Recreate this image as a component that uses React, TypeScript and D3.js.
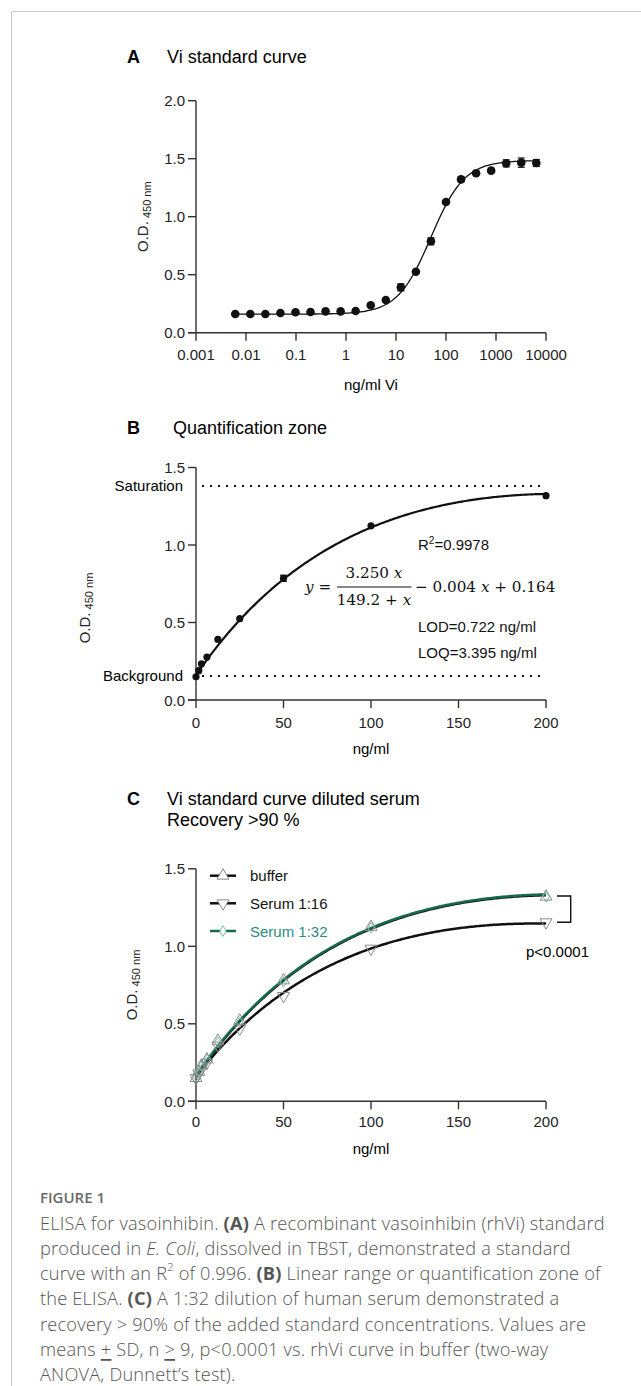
import React from "react";
import * as d3 from "d3";

// ---------- Panel A data ----------
const A_conc = [0.0061, 0.0122, 0.0244, 0.0488, 0.0977, 0.195, 0.39, 0.78, 1.56, 3.125, 6.25, 12.5, 25, 50, 100, 200, 400, 800, 1600, 3200, 6400];
const A_od = [0.161, 0.161, 0.161, 0.170, 0.176, 0.178, 0.184, 0.184, 0.187, 0.236, 0.282, 0.391, 0.526, 0.788, 1.127, 1.322, 1.374, 1.397, 1.460, 1.466, 1.463];
const A_sd = [0, 0, 0, 0, 0, 0, 0, 0, 0, 0.01, 0.01, 0.03, 0.01, 0.03, 0.01, 0.02, 0.01, 0.01, 0.03, 0.04, 0.03];
const A_fit = { bottom: 0.16, top: 1.485, ec50: 50, hill: 1.3 };
const A_xTicks = [0.001, 0.01, 0.1, 1, 10, 100, 1000, 10000];
const A_xLabels = ["0.001", "0.01", "0.1", "1", "10", "100", "1000", "10000"];
const A_yTicks = [0, 0.5, 1, 1.5, 2];
const A_yLabels = ["0.0", "0.5", "1.0", "1.5", "2.0"];

// ---------- Panel B data ----------
const B_conc = [0, 1.56, 3.125, 6.25, 12.5, 25, 50, 100, 200];
const B_od = [0.150, 0.189, 0.234, 0.277, 0.391, 0.525, 0.785, 1.124, 1.318];
const B_sd = [0, 0, 0, 0, 0, 0, 0.02, 0, 0];
const B_fit = { a: 5.0, b: 222, d: 0.006, c: 0.16 };
const B_saturation = 1.381;
const B_background = 0.155;
const BC_xTicks = [0, 50, 100, 150, 200];
const BC_xLabels = ["0", "50", "100", "150", "200"];
const BC_yTicks = [0, 0.5, 1, 1.5];
const BC_yLabels = ["0.0", "0.5", "1.0", "1.5"];

// ---------- Panel C data ----------
const C_conc = [0, 1.56, 3.125, 6.25, 12.5, 25, 50, 100, 200];
const C_buffer = [0.15, 0.19, 0.23, 0.27, 0.39, 0.52, 0.78, 1.125, 1.32];
const C_serum16 = [0.15, 0.18, 0.21, 0.25, 0.36, 0.47, 0.68, 0.985, 1.155];
const C_serum32 = [0.16, 0.19, 0.23, 0.27, 0.38, 0.51, 0.77, 1.12, 1.32];
const C_fitBuffer = { a: 5.0, b: 222, d: 0.006, c: 0.16 };
const C_fitSerum16 = { a: 4.69, b: 229, d: 0.006, c: 0.16 };
const C_fitSerum32 = { a: 5.0, b: 222, d: 0.006, c: 0.165 };
const C_series = ["buffer", "Serum 1:16", "Serum 1:32"];

const SANS = "'Liberation Sans', Arial, sans-serif";
const SERIF = "'DejaVu Serif', 'Liberation Serif', serif";
const GREEN = "#16694a";
const TEAL = "#2b8c80";

const fourPL = (x: number) =>
  A_fit.bottom + (A_fit.top - A_fit.bottom) / (1 + Math.pow(A_fit.ec50 / x, A_fit.hill));
const hyper = (p: { a: number; b: number; d: number; c: number }) => (x: number) =>
  (p.a * x) / (p.b + x) - p.d * x + p.c;

function sampleLog(lo: number, hi: number, n: number) {
  const out: number[] = [];
  for (let i = 0; i <= n; i++) out.push(Math.pow(10, Math.log10(lo) + ((Math.log10(hi) - Math.log10(lo)) * i) / n));
  return out;
}
function sampleLin(lo: number, hi: number, n: number) {
  const out: number[] = [];
  for (let i = 0; i <= n; i++) out.push(lo + ((hi - lo) * i) / n);
  return out;
}

function YLabel({ x, cy }: { x: number; cy: number }) {
  return (
    <text transform={`translate(${x},${cy}) rotate(-90)`} textAnchor="middle" fontFamily={SANS} fontSize={15} fill="#222">
      O.D.
      <tspan fontSize={11} dy={3}> 450 nm</tspan>
    </text>
  );
}

function Axes({ x, y, xTicks, xLabels, yTicks, yLabels, labelY }: any) {
  const [x0, x1] = x.range();
  const [y0, y1] = y.range();
  return (
    <g fontFamily={SANS} fontSize={15} fill="#222">
      <line x1={x0} x2={x0} y1={y1} y2={y0} stroke="#333" strokeWidth={1.4} />
      <line x1={x0 - 8} x2={x1} y1={y0} y2={y0} stroke="#333" strokeWidth={1.4} />
      {yTicks.map((t: number, i: number) => (
        <g key={"y" + i}>
          <line x1={x0 - 8} x2={x0} y1={y(t)} y2={y(t)} stroke="#333" strokeWidth={1.4} />
          <text x={x0 - 11} y={y(t)} textAnchor="end" dominantBaseline="central">{yLabels[i]}</text>
        </g>
      ))}
      {xTicks.map((t: number, i: number) => (
        <g key={"x" + i}>
          <line x1={x(t)} x2={x(t)} y1={y0} y2={y0 + 8} stroke="#333" strokeWidth={1.4} />
          <text x={x(t)} y={labelY} textAnchor="middle" dominantBaseline="central">{xLabels[i]}</text>
        </g>
      ))}
    </g>
  );
}

export default function App() {
  // Panel A
  const ax = d3.scaleLog().domain([0.001, 10000]).range([196, 546]);
  const ay = d3.scaleLinear().domain([0, 2]).range([332.7, 100.7]);
  const aLine = d3.line<number>().x((d) => ax(d)).y((d) => ay(fourPL(d)));
  const aPath = aLine(sampleLog(A_conc[0], A_conc[A_conc.length - 1], 200)) || "";

  // Panel B
  const bx = d3.scaleLinear().domain([0, 200]).range([196, 546]);
  const by = d3.scaleLinear().domain([0, 1.5]).range([700, 467.5]);
  const bf = hyper(B_fit);
  const bLine = d3.line<number>().x((d) => bx(d)).y((d) => by(bf(d)));
  const bPath = bLine(sampleLin(0, 200, 200)) || "";

  // Panel C
  const cx = d3.scaleLinear().domain([0, 200]).range([196, 546]);
  const cy = d3.scaleLinear().domain([0, 1.5]).range([1101.3, 868.8]);
  const mk = (p: any) => {
    const f = hyper(p);
    return d3.line<number>().x((d) => cx(d)).y((d) => cy(f(d)))(sampleLin(0, 200, 200)) || "";
  };
  const triUp = d3.symbol().type(d3.symbolTriangle).size(62)() || "";
  const diamond = d3.symbol().type(d3.symbolDiamond).size(34)() || "";
  const legendY = [875.7, 903.3, 931];

  const caption: React.ReactNode[] = [
    <>ELISA for vasoinhibin. <tspan fontWeight={700}>(A)</tspan> A recombinant vasoinhibin (rhVi) standard</>,
    <>produced in <tspan fontStyle="italic">E. Coli</tspan>, dissolved in TBST, demonstrated a standard</>,
    <>curve with an R<tspan fontSize={11} dy={-7}>2</tspan><tspan dy={7}> of 0.996. </tspan><tspan fontWeight={700}>(B)</tspan> Linear range or quantification zone of</>,
    <>the ELISA. <tspan fontWeight={700}>(C)</tspan> A 1:32 dilution of human serum demonstrated a</>,
    <>recovery &gt; 90% of the added standard concentrations. Values are</>,
    <>means <tspan textDecoration="underline">+</tspan> SD, n <tspan textDecoration="underline">&gt;</tspan> 9, p&lt;0.0001 vs. rhVi curve in buffer (two-way</>,
    <>ANOVA, Dunnett’s test).</>,
  ];

  return (
    <svg width={641} height={1386} style={{ position: "absolute", left: 0, top: 0, background: "#fff" }}>
      {/* frame */}
      <line x1={11.5} x2={641} y1={11.5} y2={11.5} stroke="#c9c9c9" strokeWidth={1} />
      <line x1={11.5} x2={11.5} y1={11.5} y2={1386} stroke="#c9c9c9" strokeWidth={1} />

      {/* ---------------- Panel A ---------------- */}
      <text x={127} y={56.7} dominantBaseline="central" fontFamily={SANS} fontSize={18} fontWeight={700}>A</text>
      <text x={167} y={56.7} dominantBaseline="central" fontFamily={SANS} fontSize={18}>Vi standard curve</text>
      <Axes x={ax} y={ay} xTicks={A_xTicks} xLabels={A_xLabels} yTicks={A_yTicks} yLabels={A_yLabels} labelY={354} />
      <YLabel x={148} cy={216.7} />
      <text x={371} y={384} textAnchor="middle" dominantBaseline="central" fontFamily={SANS} fontSize={15}>ng/ml Vi</text>
      <path d={aPath} fill="none" stroke="#111" strokeWidth={1.3} />
      {A_conc.map((c, i) => (
        <g key={i}>
          {A_sd[i] > 0 && (
            <g stroke="#111" strokeWidth={1.2}>
              <line x1={ax(c)} x2={ax(c)} y1={ay(A_od[i] - A_sd[i])} y2={ay(A_od[i] + A_sd[i])} />
              <line x1={ax(c) - 3.5} x2={ax(c) + 3.5} y1={ay(A_od[i] - A_sd[i])} y2={ay(A_od[i] - A_sd[i])} />
              <line x1={ax(c) - 3.5} x2={ax(c) + 3.5} y1={ay(A_od[i] + A_sd[i])} y2={ay(A_od[i] + A_sd[i])} />
            </g>
          )}
          <circle cx={ax(c)} cy={ay(A_od[i])} r={4.3} fill="#111" />
        </g>
      ))}

      {/* ---------------- Panel B ---------------- */}
      <text x={127} y={427.7} dominantBaseline="central" fontFamily={SANS} fontSize={18} fontWeight={700}>B</text>
      <text x={173} y={427.7} dominantBaseline="central" fontFamily={SANS} fontSize={18}>Quantification zone</text>
      <Axes x={bx} y={by} xTicks={BC_xTicks} xLabels={BC_xLabels} yTicks={BC_yTicks} yLabels={BC_yLabels} labelY={722} />
      <YLabel x={90} cy={608} />
      <text x={371} y={748} textAnchor="middle" dominantBaseline="central" fontFamily={SANS} fontSize={15}>ng/ml</text>
      <line x1={202} x2={546} y1={by(B_saturation)} y2={by(B_saturation)} stroke="#111" strokeWidth={2} strokeDasharray="2,6" />
      <line x1={202} x2={546} y1={by(B_background)} y2={by(B_background)} stroke="#111" strokeWidth={2} strokeDasharray="2,6" />
      <text x={183} y={by(B_saturation)} textAnchor="end" dominantBaseline="central" fontFamily={SANS} fontSize={15}>Saturation</text>
      <text x={183} y={by(B_background)} textAnchor="end" dominantBaseline="central" fontFamily={SANS} fontSize={15}>Background</text>
      <path d={bPath} fill="none" stroke="#111" strokeWidth={2.2} />
      {B_conc.map((c, i) => (
        <g key={i}>
          {B_sd[i] > 0 && (
            <g stroke="#111" strokeWidth={1.2}>
              <line x1={bx(c)} x2={bx(c)} y1={by(B_od[i] - B_sd[i])} y2={by(B_od[i] + B_sd[i])} />
              <line x1={bx(c) - 3.5} x2={bx(c) + 3.5} y1={by(B_od[i] - B_sd[i])} y2={by(B_od[i] - B_sd[i])} />
              <line x1={bx(c) - 3.5} x2={bx(c) + 3.5} y1={by(B_od[i] + B_sd[i])} y2={by(B_od[i] + B_sd[i])} />
            </g>
          )}
          <circle cx={bx(c)} cy={by(B_od[i])} r={3.6} fill="#111" />
        </g>
      ))}
      <g fontFamily={SANS} fontSize={15} fill="#111">
        <text x={418} y={550}>R<tspan fontSize={10} dy={-6}>2</tspan><tspan dy={6}>=0.9978</tspan></text>
        <text x={418} y={632}>LOD=0.722 ng/ml</text>
        <text x={418} y={658}>LOQ=3.395 ng/ml</text>
      </g>
      <g fontFamily={SERIF} fontSize={15.2} fill="#111">
        <text x={305} y={587} dominantBaseline="central"><tspan fontStyle="italic">y</tspan> =</text>
        <text x={374} y={573.3} textAnchor="middle" dominantBaseline="central">3.250 <tspan fontStyle="italic">x</tspan></text>
        <line x1={337} x2={411.5} y1={587} y2={587} stroke="#111" strokeWidth={1} />
        <text x={374} y={600} textAnchor="middle" dominantBaseline="central">149.2 + <tspan fontStyle="italic">x</tspan></text>
        <text x={415} y={587} dominantBaseline="central">− 0.004 <tspan fontStyle="italic">x</tspan> + 0.164</text>
      </g>

      {/* ---------------- Panel C ---------------- */}
      <text x={127} y={799} dominantBaseline="central" fontFamily={SANS} fontSize={18} fontWeight={700}>C</text>
      <text x={167} y={799} dominantBaseline="central" fontFamily={SANS} fontSize={18}>Vi standard curve diluted serum</text>
      <text x={167} y={820} dominantBaseline="central" fontFamily={SANS} fontSize={18}>Recovery &gt;90 %</text>
      <Axes x={cx} y={cy} xTicks={BC_xTicks} xLabels={BC_xLabels} yTicks={BC_yTicks} yLabels={BC_yLabels} labelY={1121.7} />
      <YLabel x={137} cy={985} />
      <text x={371} y={1148} textAnchor="middle" dominantBaseline="central" fontFamily={SANS} fontSize={15}>ng/ml</text>
      <path d={mk(C_fitBuffer)} fill="none" stroke="#111" strokeWidth={2.5} />
      <path d={mk(C_fitSerum16)} fill="none" stroke="#111" strokeWidth={2.5} />
      <path d={mk(C_fitSerum32)} fill="none" stroke={GREEN} strokeWidth={2.5} />
      {C_conc.map((c, i) => (
        <g key={i} fill="none" strokeWidth={1}>
          <path d={diamond} transform={`translate(${cx(c)},${cy(C_serum32[i])})`} stroke="#7cc0b6" />
          <path d={triUp} transform={`translate(${cx(c)},${cy(C_buffer[i])})`} stroke="#8a8a8a" />
          <path d={triUp} transform={`translate(${cx(c)},${cy(C_serum16[i])}) rotate(180)`} stroke="#8a8a8a" />
        </g>
      ))}
      {C_series.map((s, i) => (
        <g key={s}>
          <line x1={210} x2={236} y1={legendY[i]} y2={legendY[i]} stroke={i === 2 ? GREEN : "#111"} strokeWidth={2.5} />
          <path
            d={i === 2 ? diamond : triUp}
            transform={`translate(223,${legendY[i]})${i === 1 ? " rotate(180)" : ""}`}
            fill="#fff"
            stroke={i === 2 ? "#7cc0b6" : "#8a8a8a"}
            strokeWidth={1}
          />
          <text x={250} y={legendY[i]} dominantBaseline="central" fontFamily={SANS} fontSize={15} fill={i === 2 ? TEAL : "#111"}>{s}</text>
        </g>
      ))}
      <path d="M557,896 H570.7 V922.3 H557" fill="none" stroke="#111" strokeWidth={1.4} />
      <text x={526} y={951.7} dominantBaseline="central" fontFamily={SANS} fontSize={15}>p&lt;0.0001</text>

      {/* ---------------- Caption ---------------- */}
      <text x={40} y={1197} dominantBaseline="central" fontFamily="'Open Sans', sans-serif" fontSize={15} fontWeight={600} fill="#6a6a6a">FIGURE 1</text>
      <g fontFamily="'Open Sans', sans-serif" fontSize={18.2} fontWeight={300} letterSpacing={0.2} fill="#555">
        {caption.map((c, i) => (
          <text key={i} x={40} y={1222.5 + i * 25.3} dominantBaseline="central">{c}</text>
        ))}
      </g>
    </svg>
  );
}
